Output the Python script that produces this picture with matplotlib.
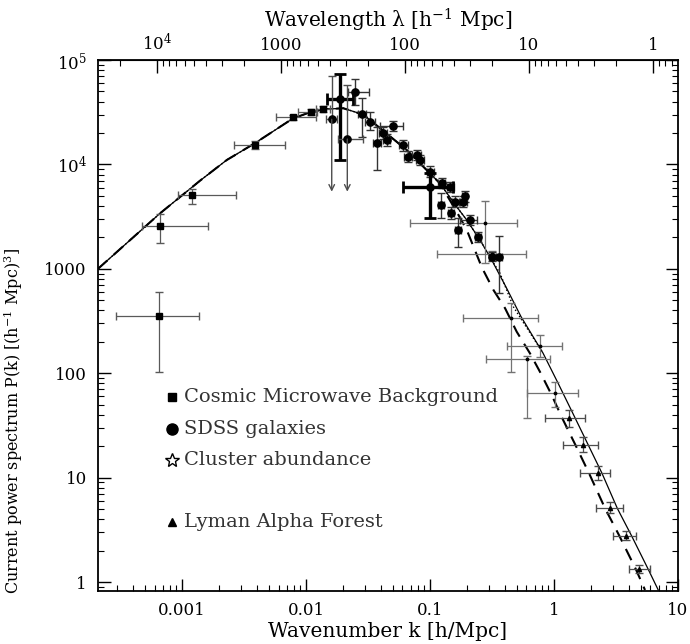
import numpy as np
import matplotlib.pyplot as plt
from matplotlib.ticker import LogLocator, NullFormatter

plt.rcParams['font.family'] = ['DejaVu Serif', 'DejaVu Sans']
plt.rcParams['mathtext.fontset'] = 'dejavuserif'

# model curves (shared low-k part, then the three branches)
base_k = [2.1e-4, 6.65e-4, 1.4e-3, 2.29e-3, 3.88e-3, 7.82e-3, 1.07e-2, 1.4e-2,
          2.0e-2, 2.9e-2, 4.2e-2, 6.5e-2, 9.4e-2, 0.12]
base_p = [1000, 3400, 7000, 11000, 16000, 27500, 31500, 33800,
          34500, 30000, 21000, 13700, 8830, 6600]
solid_k = [0.164, 0.198, 0.253, 0.3145, 0.41, 0.542, 0.815, 1.08, 1.476, 1.89,
           2.43, 3.24, 4.23, 5.76, 6.93]
solid_p = [3935, 2930, 1890, 1214, 670, 348, 156, 80, 37.5, 20.5,
           11.1, 5.08, 2.76, 1.32, 0.838]
dash_k = [0.164, 0.198, 0.262, 0.325, 0.403, 0.5, 0.64, 0.771, 0.958, 1.16,
          1.49, 1.91, 2.58, 3.37, 4.58, 5.42]
dash_p = [3525, 2354, 1030, 626, 419, 250, 155, 103, 61.8, 37.5,
          20.5, 11.1, 5.08, 2.76, 1.32, 0.838]
dot_k = [0.164, 0.198, 0.253, 0.3145, 0.367, 0.47, 0.562, 0.815]
dot_p = [3935, 2930, 1890, 1214, 906, 433, 310, 156]

# CMB
cmb_k = [6.53e-4, 6.65e-4, 1.21e-3, 3.88e-3, 7.82e-3, 1.09e-2, 1.37e-2]
cmb_p = [356, 2590, 5060, 15350, 28250, 32000, 33650]
cmb_klo = [2.94e-4, 4.73e-4, 9.3e-4, 2.64e-3, 5.73e-3, 8.6e-3, 1.2e-2]
cmb_khi = [1.38e-3, 1.61e-3, 2.72e-3, 6.78e-3, 1.2e-2, 1.23e-2, 1.55e-2]
cmb_plo = [102, 1780, 4180, 14200, 26500, 30000, 31500]
cmb_phi = [604, 3330, 5770, 16600, 30000, 34000, 36000]

# SDSS galaxies
sdss_k = [0.02483, 0.02844, 0.0328, 0.03758, 0.04198, 0.04477, 0.0506, 0.06095,
          0.06687, 0.07809, 0.08299, 0.1, 0.1241, 0.1449, 0.1218, 0.1592, 0.1857,
          0.1914, 0.1468, 0.2104, 0.169, 0.2454, 0.3145, 0.3597]
sdss_p = [49100, 30400, 25600, 15900, 20100, 17100, 23500, 15300,
          11850, 12300, 11020, 8510, 6590, 6110, 4084, 4395, 4395,
          4980, 3447, 2933, 2353, 2004, 1306, 1306]
sdss_klo = [0.02183, 0.0265, 0.0301, 0.035, 0.039, 0.042, 0.03954, 0.056,
            0.062, 0.072, 0.077, 0.094, 0.116, 0.136, 0.115, 0.15, 0.175,
            0.18, 0.139, 0.1746, 0.16, 0.232, 0.3, 0.34]
sdss_khi = [0.03222, 0.0305, 0.0359, 0.04, 0.045, 0.048, 0.06053, 0.066,
            0.072, 0.085, 0.089, 0.107, 0.133, 0.155, 0.129, 0.17, 0.197,
            0.2, 0.155, 0.2393, 0.178, 0.26, 0.33, 0.38]
sdss_plo = [37100, 18400, 21300, 8840, 17500, 15000, 21000, 13500,
            10500, 11000, 9800, 7500, 5900, 5500, 3050, 3900, 3900,
            4400, 3000, 2600, 1629, 1800, 1180, 582]
sdss_phi = [65800, 43200, 31800, 22900, 23000, 19500, 26000, 17300,
            13300, 13800, 12400, 9600, 7400, 6800, 5290, 4950, 4950,
            5600, 3950, 3300, 3067, 2250, 1450, 2060]

# SDSS points drawn with heavy bars
thick_k = [0.01879, 0.1]
thick_p = [42300, 6110]
thick_klo = [0.01469, 0.061]
thick_khi = [0.02404, 0.153]
thick_plo = [11000, 3050]
thick_phi = [73400, 8270]

# SDSS points with only an upper limit below
arrow_k = [0.01612, 0.02153]
arrow_p = [27040, 17500]
arrow_klo = [0.0146, 0.01811]
arrow_khi = [0.0178, 0.02884]
arrow_phi = [70300, 57700]
arrow_end = [5480, 5480]

# broad thin points (cluster / lensing)
wide_k = [0.278, 0.316, 0.4496, 0.6095, 0.771, 1.019]
wide_p = [2728, 1387, 335.7, 135.8, 183.4, 65.1]
wide_klo = [0.069, 0.113, 0.1836, 0.283, 0.4159, 0.6095]
wide_khi = [0.5, 0.6, 0.7464, 0.929, 1.153, 1.571]
wide_plo = [1129, 1300, 103.4, 37, 143.9, 47.8]
wide_phi = [4460, 1480, 467.5, 145, 232, 82.9]

# Lyman alpha forest
lya_k = [1.321, 1.722, 2.249, 2.831, 3.784, 4.875]
lya_p = [37.5, 20.5, 11.14, 5.08, 2.76, 1.32]
lya_klo = [0.845, 1.189, 1.622, 2.183, 2.972, 4.05]
lya_khi = [1.778, 2.275, 2.831, 3.58, 4.58, 5.94]
lya_plo = [30.7, 17.7, 9.48, 4.55, 2.53, 1.21]
lya_phi = [44.4, 24.6, 12.9, 5.88, 3.1, 1.455]

legend_labels = ['Cosmic Microwave Background', 'SDSS galaxies',
                 'Cluster abundance', 'Lyman Alpha Forest']
legend_markers = ['s', 'o', '*', '^']
legend_y = [0.365, 0.305, 0.247, 0.13]


def bars(ax, k, p, klo, khi, plo, phi, **kw):
    k = np.array(k); p = np.array(p)
    xerr = [k - np.array(klo), np.array(khi) - k]
    yerr = [p - np.array(plo), np.array(phi) - p]
    ax.errorbar(k, p, xerr=xerr, yerr=yerr, linestyle='none', **kw)


fig = plt.figure(figsize=(6.9, 6.44), dpi=100)
ax = fig.add_axes([0.142, 0.0823, 0.8406, 0.8245])
ax.set_xscale('log')
ax.set_yscale('log')
ax.set_xlim(2.1e-4, 10)
ax.set_ylim(0.82, 1e5)

ax.plot(base_k + solid_k, base_p + solid_p, color='k', lw=0.9)
ax.plot(base_k + dash_k, base_p + dash_p, color='k', lw=1.5, ls=(0, (6, 4)))
ax.plot(base_k + dot_k, base_p + dot_p, color='k', lw=1.0, ls=':')

bars(ax, wide_k, wide_p, wide_klo, wide_khi, wide_plo, wide_phi,
     marker='.', ms=3.5, color='k', ecolor='0.45', elinewidth=0.9, capsize=3)
bars(ax, cmb_k, cmb_p, cmb_klo, cmb_khi, cmb_plo, cmb_phi,
     marker='s', ms=4.3, color='k', ecolor='0.35', elinewidth=0.9, capsize=3)
bars(ax, sdss_k, sdss_p, sdss_klo, sdss_khi, sdss_plo, sdss_phi,
     marker='o', ms=5.2, color='k', ecolor='0.2', elinewidth=1.0, capsize=3)
bars(ax, thick_k, thick_p, thick_klo, thick_khi, thick_plo, thick_phi,
     marker='o', ms=5.2, color='k', ecolor='k', elinewidth=2.4, capsize=4, capthick=2)
bars(ax, arrow_k, arrow_p, arrow_klo, arrow_khi, arrow_p, arrow_phi,
     marker='o', ms=5.2, color='k', ecolor='0.3', elinewidth=1.0, capsize=3)
for k, p, e in zip(arrow_k, arrow_p, arrow_end):
    ax.annotate('', xy=(k, e), xytext=(k, p),
                arrowprops=dict(arrowstyle='->', color='0.3', lw=1.0,
                                shrinkA=0, shrinkB=0))
bars(ax, lya_k, lya_p, lya_klo, lya_khi, lya_plo, lya_phi,
     marker='^', ms=3, color='k', ecolor='0.3', elinewidth=0.9, capsize=3)

for lab, m, y in zip(legend_labels, legend_markers, legend_y):
    ms = {'s': 6, 'o': 8, '*': 10, '^': 5.5}[m]
    fc = 'white' if m == '*' else 'k'
    ax.plot([0.127], [y], marker=m, ms=ms, mfc=fc, mec='k', color='k',
            transform=ax.transAxes, clip_on=False)
    ax.text(0.148, y, lab, transform=ax.transAxes, fontsize=14,
            va='center', ha='left', color='0.2')

ax.set_xticks([1e-3, 1e-2, 0.1, 1, 10])
ax.set_xticklabels(['0.001', '0.01', '0.1', '1', '10'])
ax.set_yticks([1, 10, 100, 1000, 1e4, 1e5])
ax.set_yticklabels(['1', '10', '100', '1000', '$10^4$', '$10^5$'])
ax.xaxis.set_minor_locator(LogLocator(subs=range(2, 10), numticks=20))
ax.yaxis.set_minor_locator(LogLocator(subs=range(2, 10), numticks=20))
ax.xaxis.set_minor_formatter(NullFormatter())
ax.yaxis.set_minor_formatter(NullFormatter())
ax.tick_params(which='both', direction='in', right=True, top=False,
               labelsize=12, pad=8)
ax.tick_params(which='major', length=9, width=1)
ax.tick_params(which='minor', length=4.5, width=0.8)
for s in ax.spines.values():
    s.set_linewidth(1.3)

sec = ax.secondary_xaxis('top', functions=(lambda k: 2 * np.pi / k,
                                           lambda l: 2 * np.pi / l))
sec.set_xticks([1e4, 1e3, 100, 10, 1])
sec.set_xticklabels(['$10^4$', '1000', '100', '10', '1'])
sec.xaxis.set_minor_locator(LogLocator(subs=range(2, 10), numticks=20))
sec.xaxis.set_minor_formatter(NullFormatter())
sec.tick_params(which='both', direction='in', labelsize=12, pad=4)
sec.tick_params(which='major', length=9, width=1)
sec.tick_params(which='minor', length=4.5, width=0.8)
sec.set_xlabel('Wavelength λ [h$^{-1}$ Mpc]', fontsize=14.5, labelpad=4)

ax.set_xlabel('Wavenumber k [h/Mpc]', fontsize=14.5, labelpad=2)
ax.set_ylabel('Current power spectrum P(k) [(h$^{-1}$ Mpc)$^3$]', fontsize=11.5)
ax.yaxis.set_label_coords(-0.125, 0.32)

fig.savefig('out.png', dpi=100)
